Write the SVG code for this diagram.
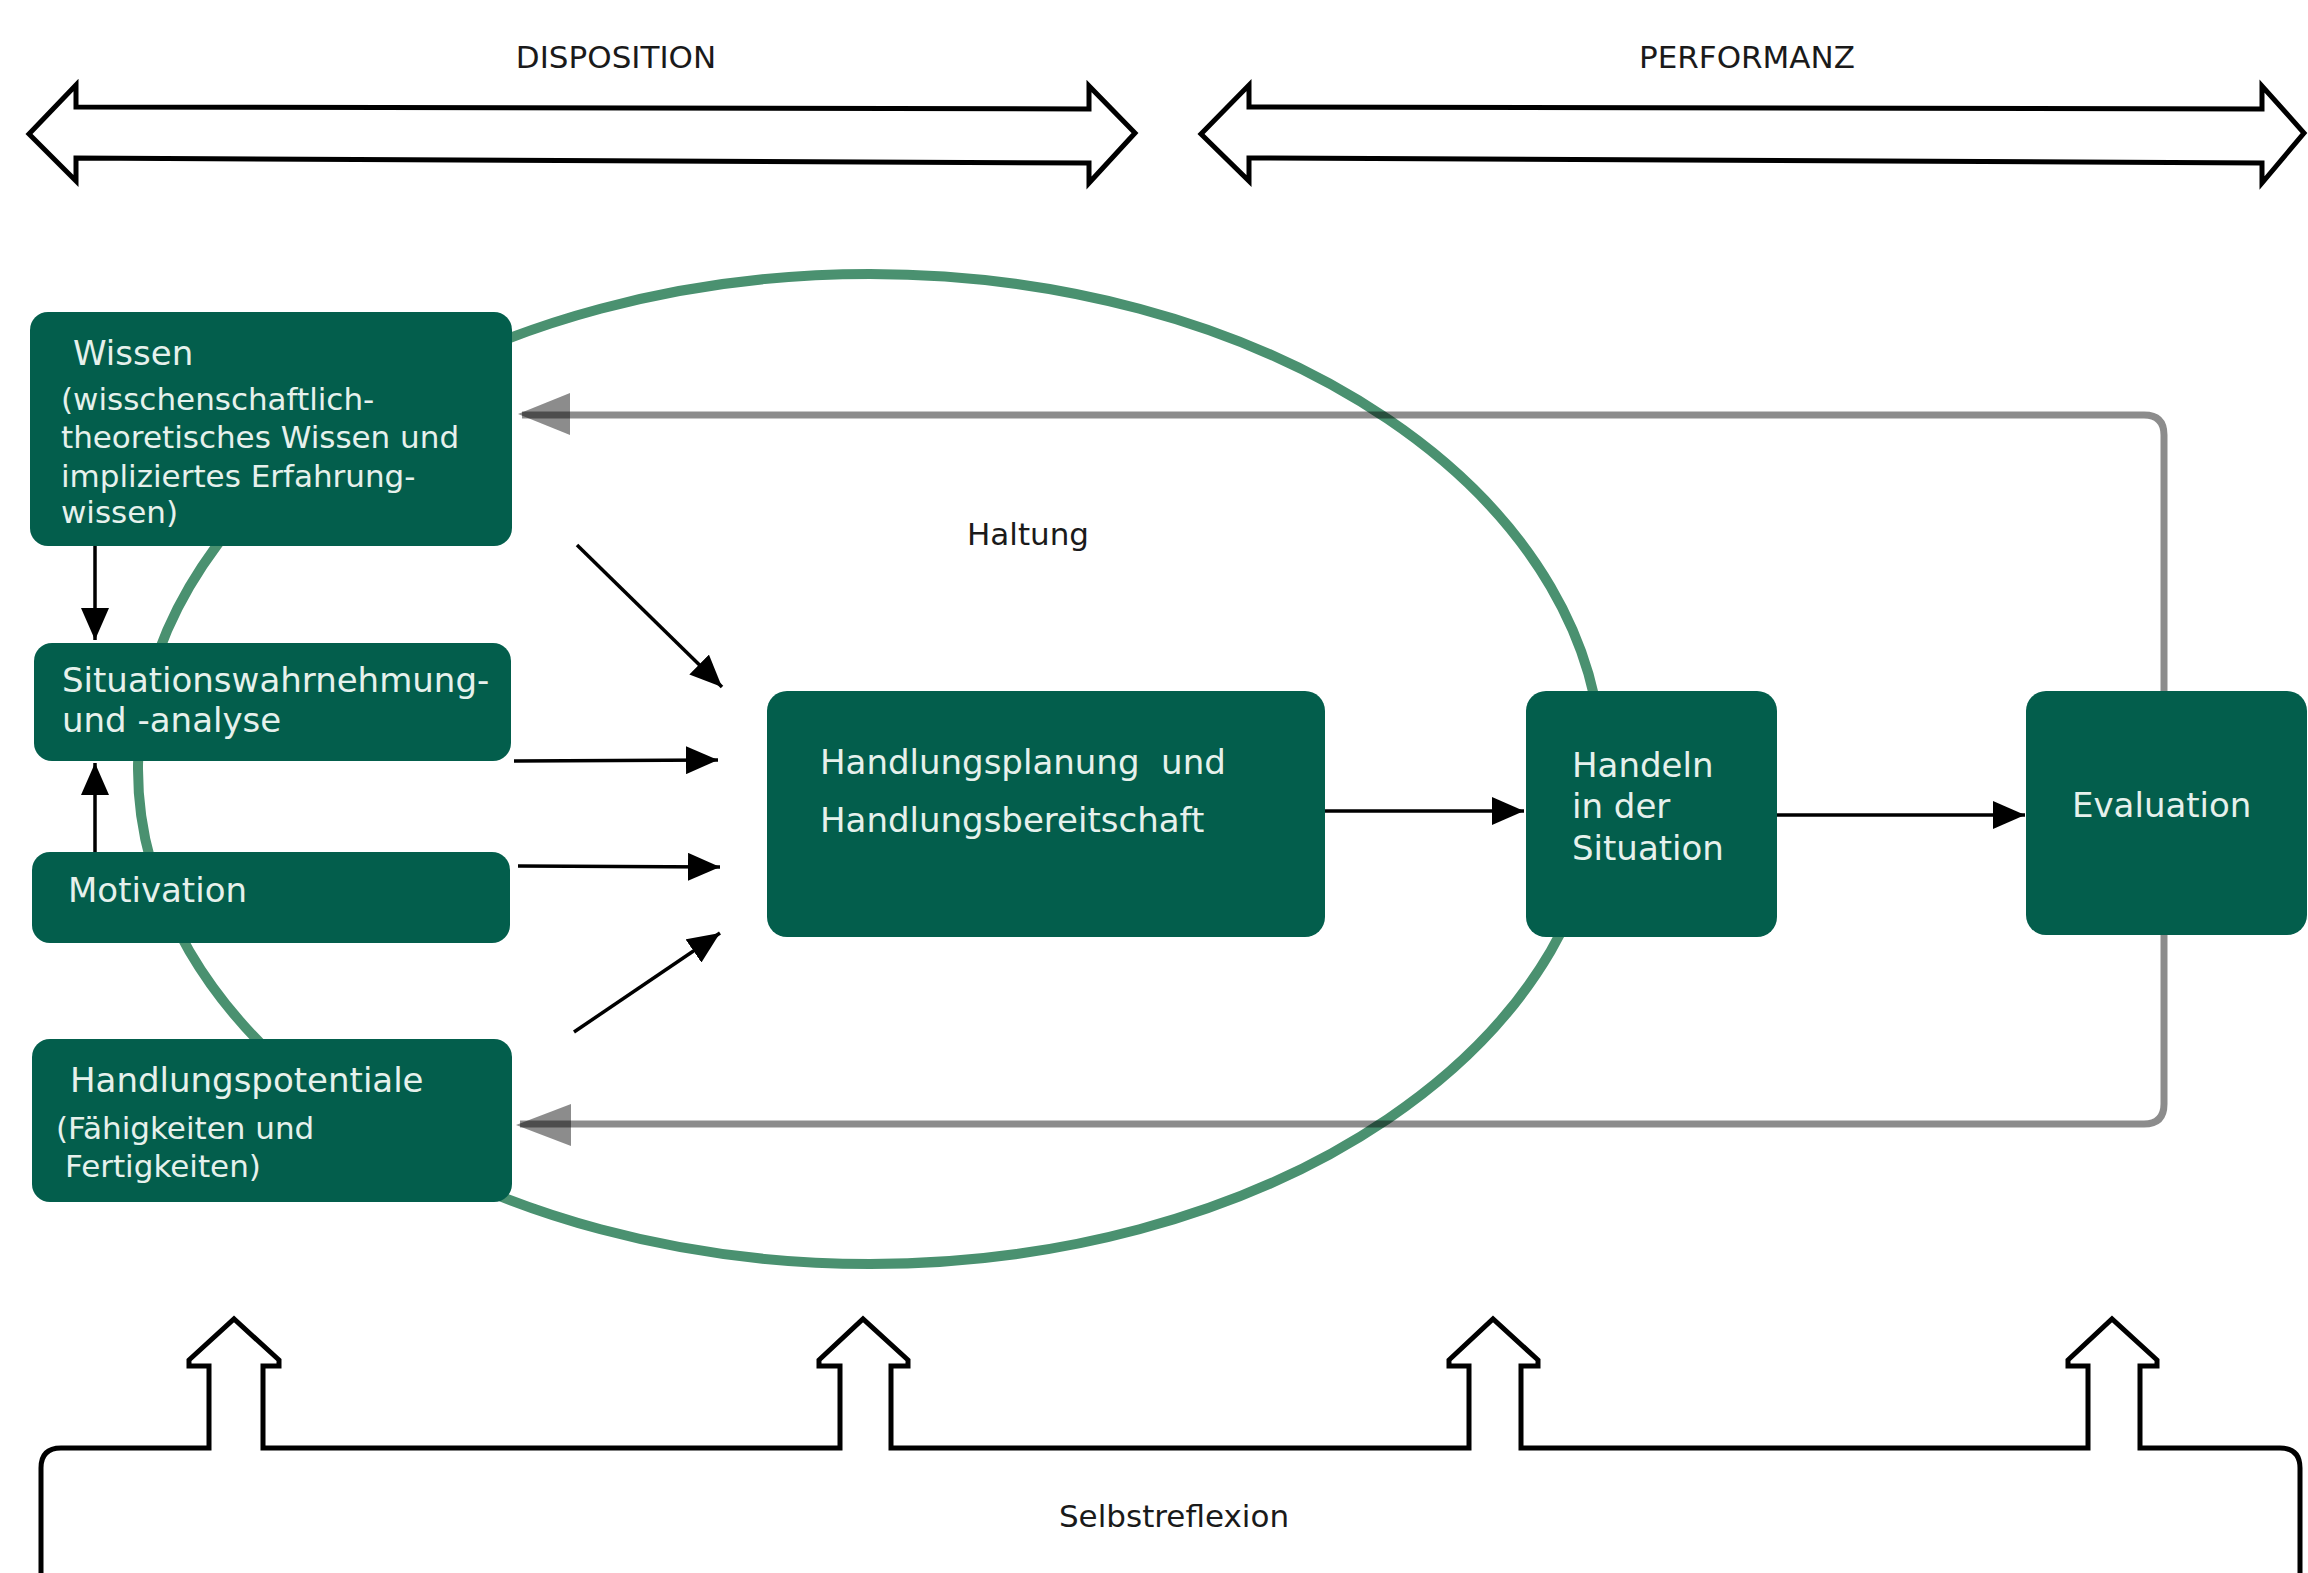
<svg xmlns="http://www.w3.org/2000/svg" width="2308" height="1573" viewBox="0 0 2308 1573">
<defs>
<style>
.box{fill:#035e4c;}
.bt{font-family:"DejaVu Sans","Verdana",sans-serif;fill:#e6f1ec;}
.h{font-size:34px;}
.s{font-size:31px;}
.lbl{font-family:"DejaVu Sans","Verdana",sans-serif;font-size:31px;fill:#1a1a1a;}
.big{fill:#fff;stroke:#000;stroke-width:5;stroke-linejoin:miter;}
.arr{stroke:#000;stroke-width:3.5;fill:none;marker-end:url(#ah);}
.gray{stroke:#000;stroke-opacity:0.45;stroke-width:7;fill:none;}
.gh{fill:#000;fill-opacity:0.45;}
</style>
<marker id="ah" markerUnits="userSpaceOnUse" markerWidth="34" markerHeight="28" refX="32" refY="14" orient="auto">
<path d="M0,0 L32,14 L0,28 Z" fill="#000"/>
</marker>
</defs>
<rect width="2308" height="1573" fill="#fff"/>

<g id="disposition">
<polygon class="big" points="29,134 76,85 76,107 1089,109 1089,86 1135,133 1089,183 1089,163 76,158 76,181"/>
<text class="lbl" x="616" y="68" text-anchor="middle">DISPOSITION</text>
</g>
<g id="performanz">
<polygon class="big" points="1201,134 1249,85 1249,107 2262,109 2262,86 2304,133 2262,183 2262,163 1249,158 1249,181"/>
<text class="lbl" x="1747" y="68" text-anchor="middle">PERFORMANZ</text>
</g>

<g id="haltung">
<ellipse cx="870" cy="769" rx="732" ry="495" fill="none" stroke="#4a9170" stroke-width="10"/>
<text class="lbl" x="967" y="545">Haltung</text>
</g>

<g id="feedback">
<path class="gray" d="M2164,691 V435 Q2164,415 2144,415 H522"/>
<polygon class="gh" points="518,414 570,393 570,435"/>
<path class="gray" d="M2164,935 V1104 Q2164,1124 2144,1124 H520"/>
<polygon class="gh" points="516,1125 571,1104 571,1146"/>
</g>

<g id="wissen">
<rect class="box" x="30" y="312" width="482" height="234" rx="18"/>
<text class="bt h" x="73" y="365">Wissen</text>
<text class="bt s" x="61" y="410">(wisschenschaftlich-</text>
<text class="bt s" x="61" y="448">theoretisches Wissen und</text>
<text class="bt s" x="61" y="487">impliziertes Erfahrung-</text>
<text class="bt s" x="61" y="523">wissen)</text>
</g>
<g id="situation">
<rect class="box" x="34" y="643" width="477" height="118" rx="18"/>
<text class="bt h" x="62" y="692">Situationswahrnehmung-</text>
<text class="bt h" x="62" y="732">und -analyse</text>
</g>
<g id="motivation">
<rect class="box" x="32" y="852" width="478" height="91" rx="18"/>
<text class="bt h" x="68" y="902">Motivation</text>
</g>
<g id="potentiale">
<rect class="box" x="32" y="1039" width="480" height="163" rx="18"/>
<text class="bt h" x="70" y="1092">Handlungspotentiale</text>
<text class="bt s" x="56" y="1139">(Fähigkeiten und</text>
<text class="bt s" x="65" y="1177">Fertigkeiten)</text>
</g>
<g id="planung">
<rect class="box" x="767" y="691" width="558" height="246" rx="20"/>
<text class="bt h" x="820" y="774" xml:space="preserve">Handlungsplanung  und</text>
<text class="bt h" x="820" y="832">Handlungsbereitschaft</text>
</g>
<g id="handeln">
<rect class="box" x="1526" y="691" width="251" height="246" rx="20"/>
<text class="bt h" x="1572" y="777">Handeln</text>
<text class="bt h" x="1572" y="818">in der</text>
<text class="bt h" x="1572" y="860">Situation</text>
</g>
<g id="evaluation">
<rect class="box" x="2026" y="691" width="281" height="244" rx="20"/>
<text class="bt h" x="2072" y="817">Evaluation</text>
</g>

<g id="connectors">
<line class="arr" x1="95" y1="546" x2="95" y2="640"/>
<line class="arr" x1="95" y1="852" x2="95" y2="763"/>
<line class="arr" x1="577" y1="545" x2="722" y2="687"/>
<line class="arr" x1="514" y1="761" x2="718" y2="760"/>
<line class="arr" x1="518" y1="866" x2="720" y2="867"/>
<line class="arr" x1="574" y1="1032" x2="720" y2="933"/>
<line class="arr" x1="1325" y1="811" x2="1524" y2="811"/>
<line class="arr" x1="1777" y1="815" x2="2025" y2="815"/>
</g>

<g id="selbstreflexion">
<path class="big" d="M41,1590 V1468 Q41,1448 61,1448 H209 V1366 H189 V1360 L234,1319 L279,1360 V1366 H263 V1448 H840 V1366 H819 V1360 L863,1319 L908,1360 V1366 H891 V1448 H1469 V1366 H1449 V1360 L1493,1319 L1538,1360 V1366 H1521 V1448 H2088 V1366 H2068 V1360 L2112,1319 L2157,1360 V1366 H2140 V1448 H2280 Q2300,1448 2300,1468 V1590"/>
<text class="lbl" x="1174" y="1527" text-anchor="middle">Selbstreflexion</text>
</g>
</svg>
